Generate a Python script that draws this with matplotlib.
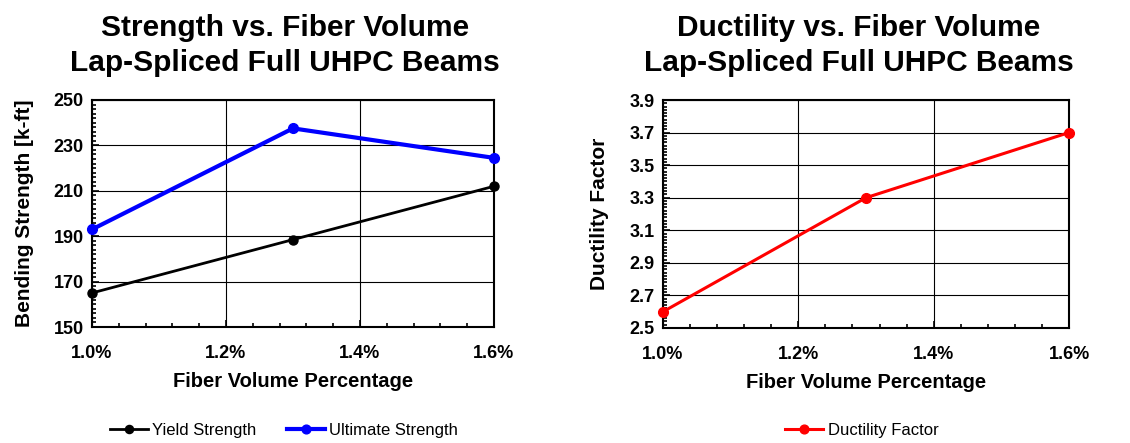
import matplotlib
matplotlib.use("Agg")
import matplotlib.pyplot as plt
from matplotlib.ticker import MultipleLocator, FixedLocator, FuncFormatter

plt.rcParams['font.family'] = ['Liberation Sans', 'DejaVu Sans']

fiber_pct = [1.0, 1.3, 1.6]
yield_strength = [165, 188.5, 212]
ultimate_strength = [193, 237.5, 224.5]
ductility = [2.6, 3.3, 3.7]

x_ticks = [1.0, 1.2, 1.4, 1.6]
strength_ticks = [150, 170, 190, 210, 230, 250]
ductility_ticks = [2.5, 2.7, 2.9, 3.1, 3.3, 3.5, 3.7, 3.9]

fig = plt.figure(figsize=(11.3, 4.43), dpi=100)
ax1 = fig.add_axes([92/1130, 1-327/443, (494-92)/1130, (327-100)/443])
ax2 = fig.add_axes([663/1130, 1-328/443, (1069-663)/1130, (328-100)/443])

def style(ax, yticks, ymin_step, yfmt):
    ax.set_xlim(x_ticks[0], x_ticks[-1])
    ax.set_ylim(yticks[0], yticks[-1])
    ax.xaxis.set_major_locator(FixedLocator(x_ticks))
    ax.xaxis.set_minor_locator(MultipleLocator(0.04))
    ax.yaxis.set_major_locator(FixedLocator(yticks))
    ax.yaxis.set_minor_locator(MultipleLocator(ymin_step))
    ax.xaxis.set_major_formatter(FuncFormatter(lambda v, p: f"{v:.1f}%"))
    ax.yaxis.set_major_formatter(FuncFormatter(yfmt))
    ax.grid(True, which='major', color='black', linewidth=0.8)
    ax.tick_params(which='both', direction='in', width=1.2)
    ax.tick_params(which='major', length=5, labelsize=13)
    ax.tick_params(which='minor', length=3)
    ax.tick_params(axis='x', which='major', pad=13)
    ax.tick_params(axis='y', which='major', pad=6)
    for lbl in ax.get_xticklabels() + ax.get_yticklabels():
        lbl.set_fontweight('bold')
    for s in ax.spines.values():
        s.set_linewidth(1.5)
    ax.set_xlabel("Fiber Volume Percentage", fontsize=14.5, fontweight='bold', labelpad=7)

ax1.plot(fiber_pct, yield_strength, color='black', marker='o', markersize=6.5, linewidth=2, label='Yield Strength', clip_on=False, zorder=3)
ax1.plot(fiber_pct, ultimate_strength, color='#0000FF', marker='o', markersize=7, linewidth=3, label='Ultimate Strength', clip_on=False, zorder=3)
style(ax1, strength_ticks, 2, lambda v, p: f"{v:.0f}")
ax1.set_ylabel("Bending Strength [k-ft]", fontsize=15, fontweight='bold', labelpad=14)
ax1.set_title("Strength vs. Fiber Volume\nLap-Spliced Full UHPC Beams", fontsize=21.5, fontweight='bold', pad=21, linespacing=1.3, x=0.48)

ax2.plot(fiber_pct, ductility, color='#FF0000', marker='o', markersize=7, linewidth=2.2, label='Ductility Factor', clip_on=False, zorder=3)
style(ax2, ductility_ticks, 0.02, lambda v, p: f"{v:.1f}")
ax2.set_ylabel("Ductility Factor", fontsize=15, fontweight='bold', labelpad=15)
ax2.set_title("Ductility vs. Fiber Volume\nLap-Spliced Full UHPC Beams", fontsize=21.5, fontweight='bold', pad=21, linespacing=1.3, x=0.482)

h1, l1 = ax1.get_legend_handles_labels()
fig.legend(h1, l1, loc='center left', bbox_to_anchor=(110/1130, 1-430/443), ncol=2, frameon=False, fontsize=12,
           handlelength=2.3, handletextpad=0.25, columnspacing=1.8, borderpad=0, borderaxespad=0, markerscale=0.9)
h2, l2 = ax2.get_legend_handles_labels()
fig.legend(h2, l2, loc='center left', bbox_to_anchor=(785/1130, 1-430/443), ncol=1, frameon=False, fontsize=12,
           handlelength=2.3, handletextpad=0.25, borderpad=0, borderaxespad=0, markerscale=0.9)

fig.savefig("out.png", dpi=100)
